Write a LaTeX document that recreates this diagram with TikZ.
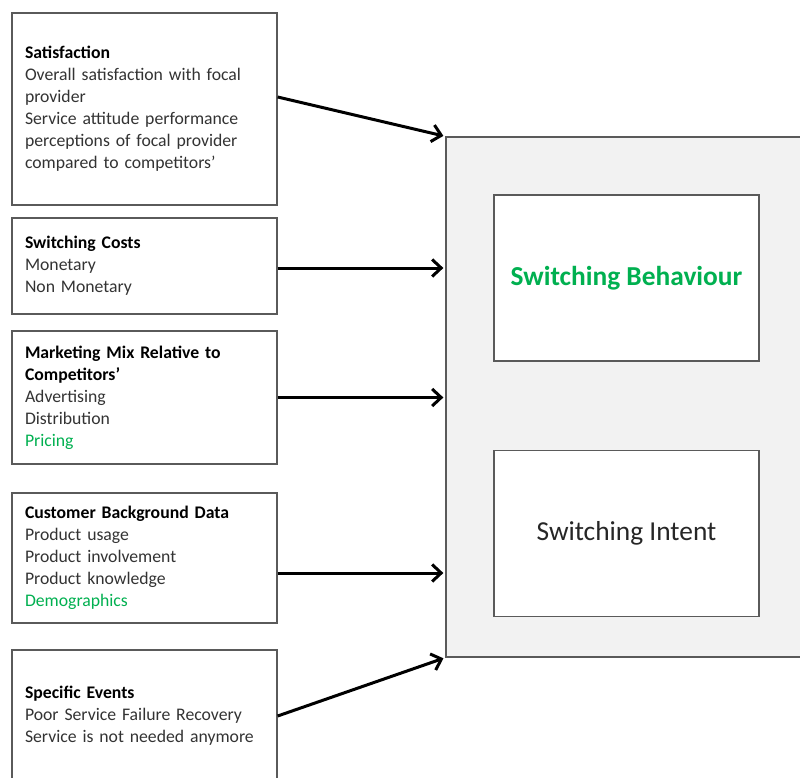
\documentclass[tikz,border=0pt]{standalone}
\usepackage{fontspec}
\setmainfont{Carlito}
\usetikzlibrary{positioning,arrows.meta}
\definecolor{drivergreen}{RGB}{0,176,80}
\definecolor{panelgrey}{RGB}{242,242,242}
\definecolor{edgegrey}{RGB}{90,90,90}

\tikzset{
  factor/.style={draw=edgegrey, line width=1.3pt, fill=white, minimum width=265pt,
    text width=239pt, align=left, inner sep=0pt, text=black!80,
    font=\fontsize{17.7}{22}\selectfont},
  outcome/.style={draw=edgegrey, line width=1.3pt, fill=white, minimum width=265pt,
    minimum height=166pt, inner sep=0pt, font=\fontsize{27.4}{30}\selectfont},
  link/.style={line width=3pt, -{Straight Barb[length=9pt,width=17pt]}, shorten >=2pt}
}

\begin{document}
\begin{tikzpicture}[x=1pt, y=-1pt]
    \useasboundingbox (0,0) rectangle (800,778);

    % Grey panel
    \node (panel) [draw=edgegrey, line width=1.3pt, fill=panelgrey, minimum width=364pt,
      minimum height=520pt, inner sep=0pt] at (628,397) {};

    % Outcomes
    \node (behave) [outcome, text=drivergreen] at (626.5,278) {\textbf{Switching Behaviour}};
    \node (intent) [outcome, text=black!85, below=88pt of behave] {Switching Intent};

    % Drivers
    \node (sat) [factor, minimum height=192pt] at (144.5,109) {\textcolor{black}{\textbf{Satisfaction}}\\
      Overall satisfaction with focal\\provider\\Service attitude performance\\
      perceptions of focal provider\\compared to competitors’};
    \node (cost) [factor, minimum height=96pt] at (144.5,266) {\textcolor{black}{\textbf{Switching Costs}}\\
      Monetary\\Non Monetary};
    \node (mix) [factor, minimum height=133pt] at (144.5,397.5) {\textcolor{black}{\textbf{Marketing Mix Relative to}}\\
      \textcolor{black}{\textbf{Competitors’}}\\Advertising\\Distribution\\\textcolor{drivergreen}{Pricing}};
    \node (data) [factor, minimum height=130pt] at (144.5,558) {\textcolor{black}{\textbf{Customer Background Data}}\\
      Product usage\\Product involvement\\Product knowledge\\\textcolor{drivergreen}{Demographics}};
    \node (event) [factor, minimum height=132pt] at (144.5,716) {\textcolor{black}{\textbf{Specific Events}}\\
      Poor Service Failure Recovery\\Service is not needed anymore};

    % Arrows
    \draw [link] ([yshift=12pt]sat.east) -- (panel.north west);
    \draw [link] ([yshift=-2pt]cost.east) -- ([yshift=-2pt]cost.east -| panel.west);
    \draw [link] (mix.east) -- (mix.east -| panel.west);
    \draw [link] ([yshift=-15pt]data.east) -- ([yshift=-15pt]data.east -| panel.west);
    \draw [link] (event.east) -- (panel.south west);
\end{tikzpicture}
\end{document}
